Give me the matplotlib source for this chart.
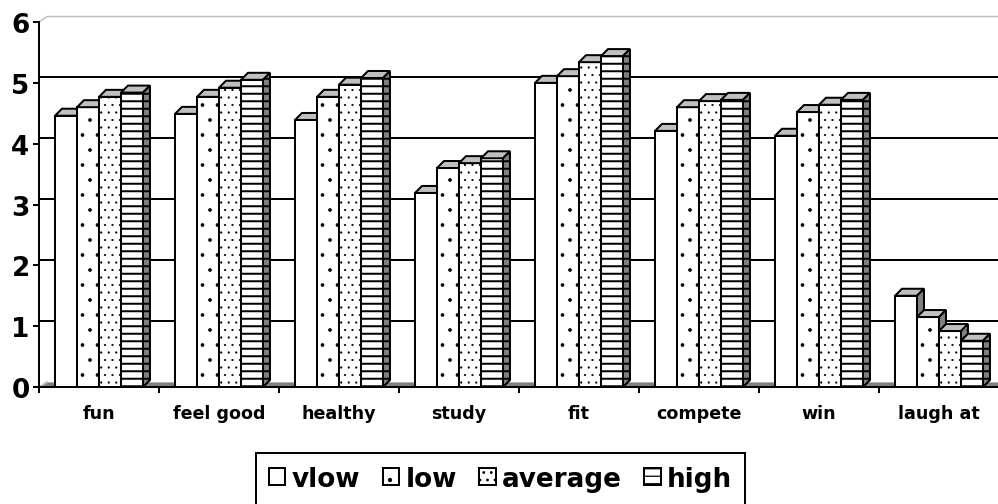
"""
Grouped pseudo-3D bar chart: motives by activity level (vlow / low / average / high)
"""
import matplotlib
matplotlib.use("Agg")
import matplotlib.pyplot as plt
from matplotlib.patches import Polygon

# ── Data ────────────────────────────────────────────────────────────────────
categories = ["fun", "feel good", "healthy", "study", "fit", "compete", "win", "laugh at"]
series_names = ["vlow", "low", "average", "high"]
vlow    = [4.46, 4.49, 4.39, 3.19, 5.00, 4.21, 4.13, 1.50]
low     = [4.60, 4.77, 4.77, 3.60, 5.11, 4.60, 4.52, 1.15]
average = [4.77, 4.92, 4.97, 3.68, 5.34, 4.70, 4.64, 0.92]
high    = [4.84, 5.05, 5.08, 3.76, 5.44, 4.72, 4.72, 0.76]
y_ticks = [0, 1, 2, 3, 4, 5, 6]

# ── Style ───────────────────────────────────────────────────────────────────
DPI = 90
W, H = 998, 505
PX_X = 120.0          # px per category
PX_Y = 60.83          # px per unit on value axis
BAR_W = 0.1833
GROUP_OFF = 0.1333
DX, DY = 7 / PX_X, 7 / PX_Y          # bar depth
WX, WY = 8 / PX_X, 5.5 / PX_Y        # wall depth
hatches = ["", ".", "..", "--"]
hatch_lw = [0.5, 0.5, 0.5, 1.6]
TOP_C, SIDE_C = "#c0c0c0", "#808080"
LW = 1.6

plt.rcParams["font.family"] = ["DejaVu Sans"]
plt.rcParams["font.weight"] = "bold"

fig = plt.figure(figsize=(W / DPI, H / DPI), dpi=DPI)
ax = fig.add_axes([39 / W, 117 / H, 960 / W, 378 / H])
n = len(categories)
ax.set_xlim(0, n)
ax.set_ylim(0, 378 / PX_Y)

# ── Walls / floor / gridlines ───────────────────────────────────────────────
ax.add_patch(Polygon([(0, 0), (n + 1, 0), (n + 1, WY), (WX, WY)], closed=True,
                     facecolor=SIDE_C, edgecolor="#b0b0b0", lw=0.8, zorder=1))
for v in y_ticks[1:-1]:
    ax.plot([0, n + 1], [v + WY, v + WY], color="black", lw=LW, zorder=1)
ax.plot([0, WX, n + 1], [6, 6 + WY, 6 + WY], color="#c0c0c0", lw=1.2,
        solid_joinstyle="miter", zorder=1, clip_on=False)
ax.plot([0, WX], [0, WY], color="#c0c0c0", lw=1.0, zorder=1)

# ── Bars (front face + top + side, left to right) ──────────────────────────
series = [vlow, low, average, high]
handles = []
for j, vals in enumerate(series):
    with plt.rc_context({"hatch.linewidth": hatch_lw[j]}):
        xs = [i + GROUP_OFF + j * BAR_W for i in range(n)]
        bars = ax.bar(xs, vals, BAR_W, align="edge", facecolor="white",
                      edgecolor="black", lw=LW, hatch=hatches[j],
                      label=series_names[j], zorder=3)
        handles.append(bars)
        for x, h in zip(xs, vals):
            top = Polygon([(x, h), (x + BAR_W, h), (x + BAR_W + DX, h + DY), (x + DX, h + DY)],
                          closed=True, facecolor=TOP_C, edgecolor="black", lw=LW,
                          joinstyle="miter", zorder=3)
            side = Polygon([(x + BAR_W, 0), (x + BAR_W + DX, DY), (x + BAR_W + DX, h + DY),
                            (x + BAR_W, h)], closed=True, facecolor=SIDE_C,
                           edgecolor="black", lw=LW, hatch=hatches[j], zorder=3)
            ax.add_patch(top)
            ax.add_patch(side)

# ── Axes ────────────────────────────────────────────────────────────────────
for s in ["top", "right"]:
    ax.spines[s].set_visible(False)
ax.spines["left"].set_bounds(0, 6)
for s in ["left", "bottom"]:
    ax.spines[s].set_linewidth(LW)
    ax.spines[s].set_zorder(5)

ax.set_yticks(y_ticks)
ax.set_yticklabels([str(v) for v in y_ticks], fontsize=21, fontweight="bold")
ax.tick_params(axis="y", length=5, width=LW, pad=2.5)

ax.set_xticks(range(n + 1))
ax.set_xticklabels([])
ax.set_xticks([i + 0.5 for i in range(n)], minor=True)
ax.set_xticklabels(categories, minor=True, fontsize=14, fontweight="bold")
ax.tick_params(axis="x", which="major", length=5, width=LW)
ax.tick_params(axis="x", which="minor", length=0, pad=13.5)

leg = ax.legend(handles=handles, labels=series_names, ncol=4, loc="upper left",
                bbox_to_anchor=(256 / W, (H - 454) / H), bbox_transform=fig.transFigure,
                borderaxespad=0, prop={"weight": "bold", "size": 21},
                handlelength=0.62, handleheight=0.62, handletextpad=0.25,
                columnspacing=0.85, borderpad=0.5, fancybox=False, framealpha=1,
                edgecolor="black")
leg.get_frame().set_linewidth(LW)

fig.savefig("out.png", dpi=DPI)
plt.close(fig)
